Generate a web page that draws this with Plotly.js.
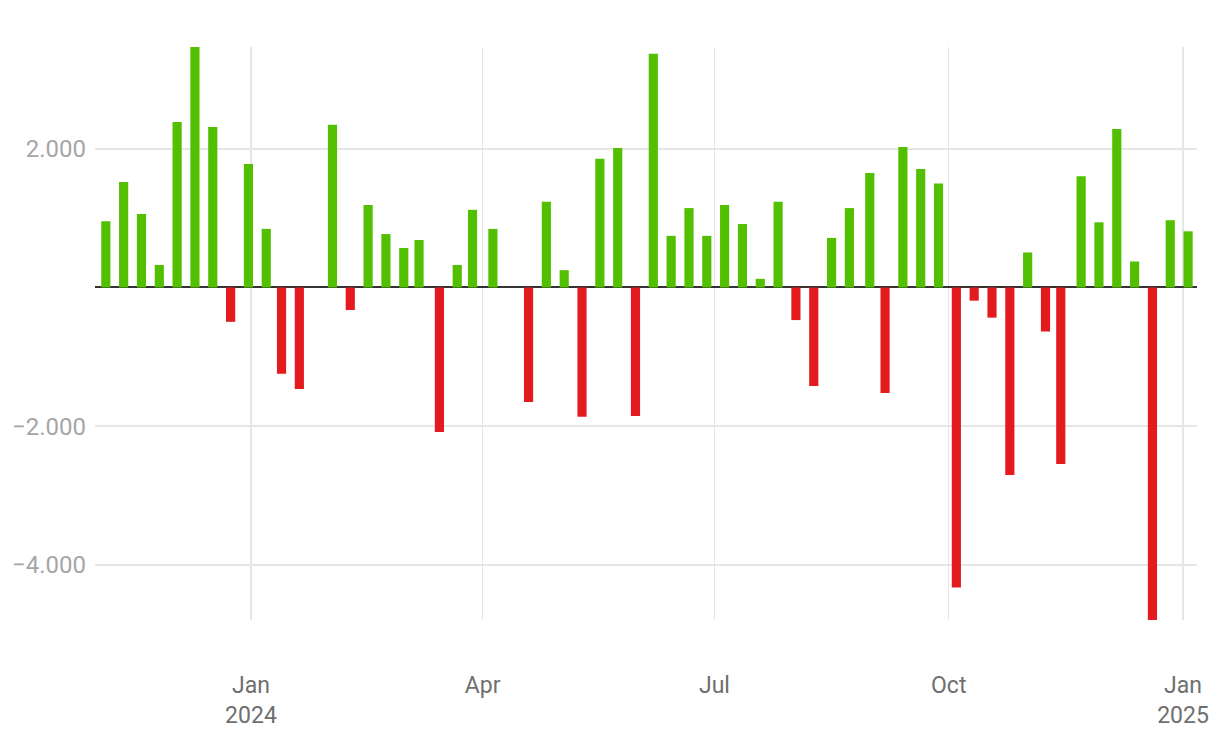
<!DOCTYPE html>
<html>
<head>
<meta charset="utf-8">
<script src="https://cdn.plot.ly/plotly-3.0.1.min.js"></script>
<style>
  html, body { margin: 0; padding: 0; background: #ffffff; }
  #chart { width: 1220px; height: 744px; }
</style>
</head>
<body>
<div id="chart"></div>
<script>
// Weekly net values
const dates = [
  '2023-11-05','2023-11-12','2023-11-19','2023-11-26','2023-12-03','2023-12-10','2023-12-17','2023-12-24','2023-12-31',
  '2024-01-07','2024-01-13','2024-01-20','2024-02-02','2024-02-09','2024-02-16','2024-02-23','2024-03-01','2024-03-07',
  '2024-03-15','2024-03-22','2024-03-28','2024-04-05','2024-04-19','2024-04-26','2024-05-03','2024-05-10','2024-05-17',
  '2024-05-24','2024-05-31','2024-06-07','2024-06-14','2024-06-21','2024-06-28','2024-07-05','2024-07-12','2024-07-19',
  '2024-07-26','2024-08-02','2024-08-09','2024-08-16','2024-08-23','2024-08-31','2024-09-06','2024-09-13','2024-09-20',
  '2024-09-27','2024-10-04','2024-10-11','2024-10-18','2024-10-25','2024-11-01','2024-11-08','2024-11-14','2024-11-22',
  '2024-11-29','2024-12-06','2024-12-13','2024-12-20','2024-12-27','2025-01-03'
];
const values = [
  955, 1520, 1060, 325, 2385, 3480, 2315, -495, 1780,
  845, -1245, -1465, 2345, -325, 1190, 770, 570, 685,
  -2085, 325, 1120, 845, -1650, 1235, 250, -1865, 1855,
  2010, -1855, 3370, 745, 1145, 745, 1190, 915, 125,
  1235, -470, -1420, 715, 1145, 1650, -1520, 2025, 1710,
  1500, -4325, -190, -435, -2705, 505, -635, -2545, 1605,
  940, 2285, 375, -4820, 970, 810
];
const tickDates = ['2024-01-01', '2024-04-01', '2024-07-01', '2024-10-01', '2025-01-01'];
const tickLabels = ['Jan<br>2024', 'Apr', 'Jul', 'Oct', 'Jan<br>2025'];
const yTicks = [-4000, -2000, 2000];

const GREEN = '#52c000';
const RED = '#e31b1f';
const DAY = 86400000;

const trace = {
  type: 'bar',
  x: dates,
  y: values,
  width: 3.6 * DAY,
  marker: { color: values.map(v => v >= 0 ? GREEN : RED), line: { width: 0 } },
  hoverinfo: 'x+y'
};

const layout = {
  width: 1220,
  height: 744,
  margin: { l: 95, r: 23, t: 47, b: 124 },
  paper_bgcolor: '#ffffff',
  plot_bgcolor: '#ffffff',
  separators: ',.',
  showlegend: false,
  font: { family: 'Roboto, sans-serif' },
  xaxis: {
    type: 'date',
    range: ['2023-10-31 18:00', '2025-01-06 12:00'],
    tickvals: tickDates,
    ticktext: tickLabels,
    showgrid: true,
    gridcolor: '#e6e6e6',
    gridwidth: 1.5,
    zeroline: false,
    showline: false,
    ticks: '',
    ticklabelstandoff: 49,
    tickfont: { family: 'Roboto, sans-serif', size: 23, color: '#6f6f6f' }
  },
  yaxis: {
    range: [-4795, 3468],
    tickvals: yTicks,
    tickformat: ',d',
    showgrid: true,
    gridcolor: '#e6e6e6',
    gridwidth: 1.5,
    zeroline: true,
    zerolinecolor: '#333333',
    zerolinewidth: 2,
    showline: false,
    ticks: '',
    ticklabelstandoff: 8,
    tickfont: { family: 'Roboto, sans-serif', size: 24, color: '#a6a6a6' }
  }
};

Plotly.newPlot('chart', [trace], layout, { displayModeBar: false, staticPlot: true });
</script>
</body>
</html>
